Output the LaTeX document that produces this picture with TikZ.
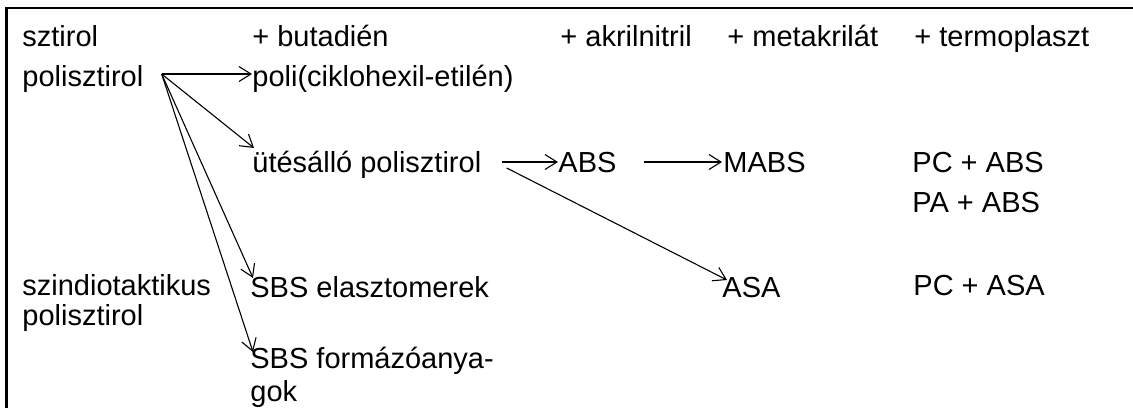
\documentclass[tikz,border=0pt]{standalone}
\usepackage{fontspec}
\setmainfont{Liberation Sans}
\usetikzlibrary{arrows.meta,calc}
\begin{document}
\begin{tikzpicture}[x=0.5pt,y=-0.5pt,
  lbl/.style={inner sep=0pt, anchor=base west, font=\fontsize{14.5}{17}\selectfont},
  conn/.style={line width=0.55pt, -{Straight Barb[length=6pt,width=7.5pt]}},
  frameline/.style={line width=1.3pt}]
\useasboundingbox (0,0) rectangle (1133,408);
\draw[frameline] (1133,8) -- (6.5,8) -- (6.5,408);
% header row
\node[lbl] (sty) at (22,46) {sztirol};
\node[lbl] (but) at (252,46) {+ butadién};
\node[lbl] (akr) at (560,46) {+ akrilnitril};
\node[lbl] (met) at (727,46) {+ metakrilát};
\node[lbl] (ter) at (914,46) {+ termoplaszt};
% rows
\node[lbl] (ps) at (22,86) {polisztirol};
\node[lbl] (pche) at (252,86) {poli(ciklohexil-etilén)};
\node[lbl] (ut) at (252,172) {ütésálló polisztirol};
\node[lbl] (abs) at (558,172) {ABS};
\node[lbl] (mabs) at (723,172) {MABS};
\node[lbl] (pcabs) at (912,172) {PC + ABS};
\node[lbl] (paabs) at (912,212) {PA + ABS};
\node[lbl] (sz1) at (22,295) {szindiotaktikus};
\node[lbl] (sz2) at (22,325) {polisztirol};
\node[lbl] (sbse) at (250,297) {SBS elasztomerek};
\node[lbl] (asa) at (722,297) {ASA};
\node[lbl] (pcasa) at (913,295) {PC + ASA};
\node[lbl] (sbsf1) at (250,368) {SBS formázóanya-};
\node[lbl] (sbsf2) at (250,401) {gok};
% fan origin
\coordinate (O) at ($(ps.base east)+(18,-12)$);
\draw[conn] (O) -- ($(pche.base west)+(0,-12)$);
\draw[conn] (O) -- ($(ut.base west)+(2,-24)$);
\draw[conn] (O) -- ($(sbse.base west)+(3,-19)$);
\draw[conn] (O) -- ($(sbsf1.base west)+(3,-16)$);
\draw[conn] ($(ut.base east)+(20,-10)$) -- ($(abs.base west)+(0,-10)$);
\draw[conn] ($(abs.base east)+(27,-10)$) -- ($(mabs.base west)+(-1,-10)$);
\draw[conn] ($(ut.base east)+(25,-4)$) -- ($(asa.base west)+(5,-17)$);
\end{tikzpicture}
\end{document}
